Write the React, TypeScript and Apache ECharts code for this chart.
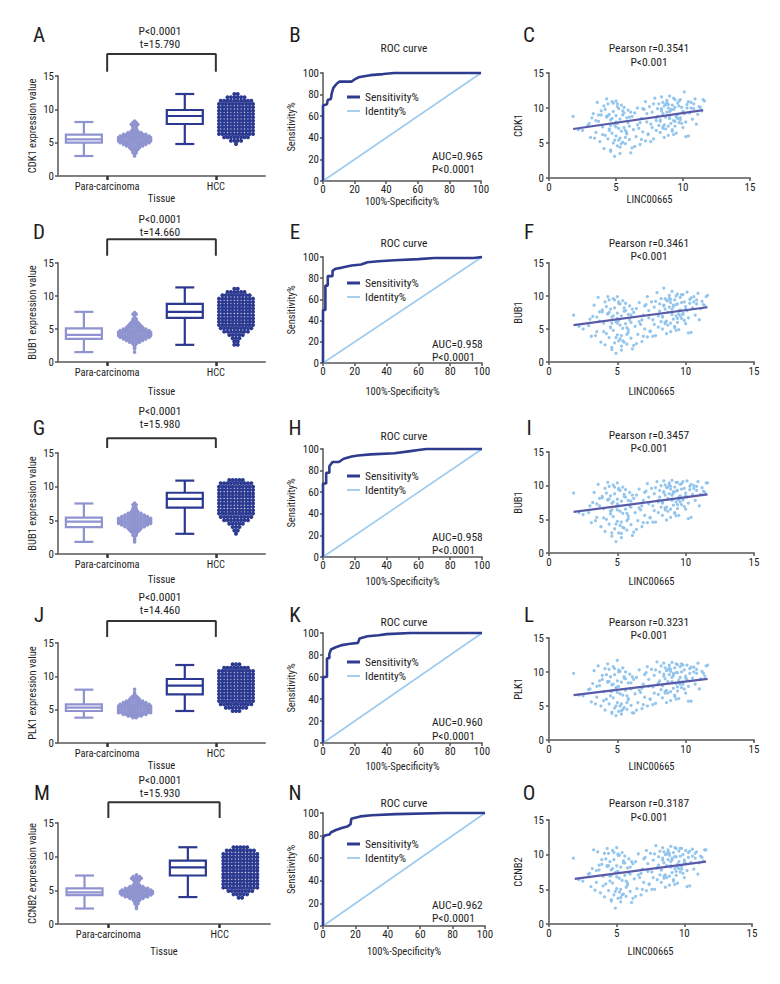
import React, { useEffect, useRef } from "react";
import * as echarts from "echarts";

const FONT = "'Roboto Condensed', 'Liberation Sans Narrow', 'DejaVu Sans Condensed', sans-serif";

// ---------- texts & statistics ----------
const panelLetters = [["A", "B", "C"], ["D", "E", "F"], ["G", "H", "I"], ["J", "K", "L"], ["M", "N", "O"]];
const genes = ["CDK1", "BUB1", "BUB1", "PLK1", "CCNB2"];
const tValues = ["15.790", "14.660", "15.980", "14.460", "15.930"];
const aucValues = ["0.965", "0.958", "0.958", "0.960", "0.962"];
const pearsonR = ["0.3541", "0.3461", "0.3457", "0.3231", "0.3187"];
const tissueCategories = ["Para-carcinoma", "HCC"];

// ---------- box plot stats [min, Q1, median, Q3, max] ----------
const paraBox = [
  [3.0, 5.0, 5.5, 6.2, 8.1],
  [1.5, 3.5, 4.1, 5.1, 7.6],
  [1.8, 4.0, 4.8, 5.4, 7.5],
  [3.8, 4.8, 5.3, 5.8, 8.0],
  [2.3, 4.3, 4.7, 5.3, 7.2],
];
const hccBox = [
  [4.8, 7.8, 9.0, 9.9, 12.3],
  [2.6, 6.7, 7.6, 8.8, 11.3],
  [3.0, 6.9, 8.2, 9.1, 10.9],
  [4.8, 7.3, 8.6, 9.6, 11.7],
  [4.0, 7.2, 8.4, 9.4, 11.4],
];

// ---------- dot plots: histogram of values (bin start, step, counts) ----------
const paraStart = [3.0, 1.5, 1.8, 3.8, 2.3];
const paraStep = 0.25;
const paraCounts = [
  [1, 1, 2, 2, 3, 4, 6, 8, 10, 11, 11, 11, 10, 8, 5, 3, 2, 2, 2, 3, 2, 1],
  [1, 0, 1, 1, 1, 2, 4, 6, 8, 10, 11, 11, 11, 10, 8, 6, 5, 4, 3, 2, 2, 1, 1, 2, 1],
  [1, 1, 1, 1, 2, 2, 3, 4, 5, 7, 9, 11, 11, 11, 11, 9, 7, 5, 3, 2, 2, 1, 2, 1],
  [2, 5, 8, 11, 11, 11, 11, 11, 10, 8, 6, 4, 3, 2, 1, 1, 0, 1],
  [1, 1, 1, 2, 2, 3, 5, 8, 10, 11, 11, 10, 8, 5, 3, 2, 2, 3, 4, 3, 1],
];
const hccStart = [4.8, 2.6, 3.0, 4.8, 3.9];
const hccStep = 0.5;
const hccCounts = [
  [1, 4, 8, 11, 11, 11, 11, 11, 11, 11, 11, 11, 11, 10, 6, 2],
  [2, 2, 3, 5, 8, 10, 11, 11, 11, 11, 11, 11, 11, 11, 11, 9, 6, 2],
  [1, 2, 3, 5, 8, 10, 11, 11, 11, 11, 11, 11, 11, 11, 11, 10, 5],
  [3, 7, 10, 11, 11, 11, 11, 11, 11, 11, 11, 11, 11, 8, 3],
  [2, 5, 8, 11, 11, 11, 11, 11, 11, 11, 11, 11, 11, 11, 9, 5],
];

// ---------- ROC curves [100%-Specificity%, Sensitivity%] ----------
const rocB = [[0, 0], [0, 70], [2.5, 71], [3, 75], [5, 76], [5.5, 81], [6.5, 86], [7.5, 88], [9, 90.5], [10.5, 92], [18, 92], [20, 94], [22.5, 96], [26, 97], [30, 98], [38, 99], [45, 100], [100, 100]];
const rocE = [[0, 0], [0, 50], [1.5, 50], [1.5, 73], [3, 73], [3, 82], [6, 82], [6, 87], [8, 89], [12, 90], [18, 92], [24, 93], [28, 95], [35, 96], [45, 97], [60, 98], [70, 99], [95, 99], [100, 100]];
const rocH = [[0, 0], [0, 68], [2, 68], [2, 78], [4, 78], [4, 84], [6, 88], [10, 88], [13, 91], [18, 93], [22, 94], [30, 95], [45, 96], [55, 98], [60, 99], [65, 100], [100, 100]];
const rocK = [[0, 0], [0, 60], [2.5, 60], [2.5, 77], [4, 77], [4, 81], [5, 85], [8, 87], [12, 89], [16, 90], [22, 91], [23, 95], [28, 97], [35, 98], [40, 99], [55, 100], [100, 100]];
const rocN = [[0, 0], [0, 78], [1, 80], [4, 81], [5, 83], [8, 85], [12, 87], [15, 88], [17, 90], [17.5, 95], [23, 97], [30, 98], [45, 99], [75, 100], [100, 100]];
const rocCurves = [rocB, rocE, rocH, rocK, rocN];
const identityLine = [[0, 0], [100, 100]];

// ---------- correlation scatter (same samples, LINC00665 on x) ----------
const lincValues = [
  1.8, 2.9, 3.1, 3.3, 3.5, 3.6, 3.7, 3.8, 3.9, 4.0,
  4.1, 4.1, 4.2, 4.3, 4.3, 4.4, 4.5, 4.5, 4.6, 4.6,
  4.7, 4.7, 4.8, 4.8, 4.9, 4.9, 5.0, 5.0, 5.0, 5.1,
  5.1, 5.2, 5.2, 5.3, 5.3, 5.4, 5.4, 5.5, 5.5, 5.6,
  5.6, 5.7, 5.8, 5.8, 5.9, 6.0, 6.0, 6.1, 6.2, 6.3,
  6.4, 6.5, 6.6, 6.7, 6.8, 6.9, 7.0, 7.1, 7.2, 7.3,
  7.4, 7.5, 7.6, 7.7, 7.8, 7.9, 8.0, 8.0, 8.1, 8.2,
  8.2, 8.3, 8.3, 8.4, 8.4, 8.5, 8.5, 8.6, 8.6, 8.7,
  8.7, 8.8, 8.8, 8.9, 8.9, 9.0, 9.0, 9.1, 9.1, 9.2,
  9.2, 9.3, 9.3, 9.4, 9.4, 9.5, 9.5, 9.6, 9.6, 9.7,
  9.7, 9.8, 9.9, 10.0, 10.0, 10.1, 10.2, 10.3, 10.4, 10.5,
  10.6, 10.7, 10.8, 10.9, 11.0, 11.2, 11.4, 11.6, 2.5, 3.2,
  3.4, 3.9, 4.4, 4.6, 5.0, 5.3, 5.7, 6.1, 6.4, 6.8,
  7.2, 7.6, 8.1, 8.5, 8.9, 9.3, 9.8, 10.2, 10.6, 11.1,
  4.2, 4.5, 4.7, 4.9, 5.1, 5.2, 5.4, 5.6, 5.8, 6.0,
  4.0, 4.4, 4.8, 5.0, 5.3, 5.5, 5.9, 6.2, 3.7, 3.5,
  8.4, 8.6, 8.8, 9.0, 9.2, 9.4, 9.6, 9.8, 10.0, 10.3,
  8.3, 8.7, 8.9, 9.1, 9.3, 9.5, 9.7, 9.9, 10.1, 10.8,
  6.6, 7.0, 7.4, 7.8, 8.0, 6.9, 7.3, 7.7, 11.3, 11.5,
  4.6, 5.1, 5.7, 4.3, 8.5, 9.0, 9.4, 10.4, 3.0, 2.2,
];
const cdk1Values = [
  8.8, 7.5, 5.8, 9.2, 6.5, 10.8, 8.1, 5.2, 9.6, 7.3,
  4.2, 10.3, 6.1, 8.7, 11.3, 5.6, 9.1, 7.0, 3.8, 8.3,
  10.9, 6.4, 5.0, 9.5, 7.6, 3.1, 8.9, 6.0, 11.0, 4.6,
  7.8, 9.9, 5.4, 8.4, 4.4, 10.4, 6.7, 9.0, 5.1, 7.2,
  10.1, 4.9, 8.6, 6.3, 9.7, 5.5, 7.4, 3.6, 8.8, 6.9,
  9.3, 5.9, 10.0, 7.1, 4.8, 8.5, 6.6, 9.8, 5.3, 8.0,
  6.2, 10.2, 7.7, 9.4, 5.6, 11.4, 8.2, 6.8, 9.9, 7.5,
  10.6, 8.1, 6.5, 9.6, 11.6, 7.3, 9.2, 5.8, 10.3, 8.7,
  7.0, 11.1, 9.4, 6.1, 10.0, 8.5, 11.7, 7.8, 9.7, 6.7,
  10.4, 8.2, 9.8, 7.4, 11.2, 8.9, 6.4, 10.7, 9.1, 7.9,
  11.0, 8.6, 10.1, 7.2, 9.5, 12.3, 8.0, 10.5, 6.0, 9.3,
  10.8, 8.4, 9.9, 11.3, 7.7, 10.2, 9.6, 11.0, 6.8, 8.6,
  5.7, 9.0, 10.6, 4.0, 8.0, 3.5, 6.8, 9.4, 4.5, 7.9,
  10.9, 5.2, 8.8, 7.1, 10.5, 6.2, 8.3, 5.9, 10.0, 9.1,
  9.8, 6.8, 8.5, 5.4, 10.2, 7.1, 4.9, 9.3, 6.5, 8.7,
  6.2, 8.9, 10.7, 7.3, 5.7, 9.6, 7.9, 4.3, 9.0, 8.2,
  9.9, 7.6, 10.8, 8.9, 6.9, 10.1, 8.5, 11.2, 9.4, 10.0,
  8.3, 10.5, 7.4, 9.8, 11.4, 8.7, 10.3, 7.8, 9.2, 10.6,
  7.6, 9.9, 6.3, 10.6, 8.6, 5.5, 9.2, 7.2, 10.1, 11.2,
  7.5, 10.6, 5.8, 8.8, 10.8, 9.5, 8.1, 10.9, 7.8, 6.9,
];
const bub1aValues = [
  7.1, 5.5, 3.9, 8.6, 4.6, 9.8, 6.2, 3.0, 7.9, 5.9,
  2.6, 9.1, 4.3, 7.3, 9.9, 3.7, 8.0, 5.3, 1.9, 6.8,
  9.6, 4.8, 2.9, 8.2, 6.1, 1.3, 7.4, 4.1, 9.9, 3.2,
  6.3, 8.8, 3.5, 7.0, 2.4, 9.3, 5.1, 7.7, 3.0, 5.8,
  8.9, 2.7, 7.2, 4.5, 8.5, 3.6, 6.0, 2.0, 7.5, 5.4,
  8.1, 4.2, 9.0, 5.7, 3.1, 7.1, 5.0, 8.7, 3.8, 6.7,
  4.7, 9.1, 6.4, 8.3, 4.0, 10.5, 7.0, 5.3, 8.8, 6.1,
  9.6, 6.9, 5.0, 8.5, 11.2, 6.0, 8.0, 4.3, 9.3, 7.5,
  5.6, 10.1, 8.3, 4.6, 9.0, 7.2, 10.7, 6.5, 8.6, 5.2,
  9.4, 7.0, 8.7, 6.0, 10.3, 7.8, 4.9, 9.8, 7.9, 6.6,
  10.2, 7.4, 9.1, 5.8, 8.4, 10.6, 6.7, 9.5, 4.5, 8.2,
  9.9, 7.1, 8.8, 10.4, 6.4, 9.2, 8.5, 10.1, 5.0, 6.9,
  4.0, 7.6, 9.4, 2.2, 6.6, 1.8, 5.2, 8.0, 2.8, 6.4,
  9.9, 3.9, 7.7, 5.8, 9.5, 4.8, 7.2, 4.4, 9.1, 8.1,
  8.4, 5.2, 7.0, 3.7, 8.9, 5.6, 3.2, 7.8, 4.9, 7.1,
  4.6, 7.5, 9.4, 5.9, 4.0, 8.2, 6.4, 2.5, 7.6, 6.8,
  8.6, 6.2, 9.7, 7.5, 5.4, 8.8, 7.0, 10.2, 8.0, 8.9,
  6.8, 9.3, 5.9, 8.4, 10.0, 7.3, 9.0, 6.3, 7.8, 9.4,
  6.1, 8.5, 4.6, 9.2, 7.2, 3.9, 7.8, 5.7, 8.7, 9.9,
  5.9, 9.1, 4.2, 7.3, 9.6, 8.0, 6.6, 9.7, 6.5, 5.4,
];
const bub1bValues = [
  8.9, 6.0, 4.5, 9.0, 5.3, 10.2, 7.0, 3.9, 8.4, 6.6,
  3.2, 9.6, 5.0, 7.9, 10.5, 4.3, 8.5, 6.2, 2.5, 7.4,
  10.1, 5.4, 3.6, 8.8, 6.9, 1.7, 8.0, 4.7, 10.4, 3.0,
  7.0, 9.3, 4.1, 7.7, 2.9, 9.8, 5.9, 8.4, 3.7, 6.5,
  9.4, 3.4, 7.8, 5.1, 9.0, 4.2, 6.8, 2.6, 8.1, 6.0,
  8.6, 4.8, 9.5, 6.4, 3.9, 7.8, 5.6, 9.2, 4.5, 7.3,
  5.3, 9.6, 7.0, 8.8, 4.6, 10.6, 7.6, 6.0, 9.3, 6.8,
  10.0, 7.5, 5.6, 9.0, 10.7, 6.7, 8.6, 4.9, 9.7, 8.1,
  6.2, 10.4, 8.8, 5.3, 9.5, 7.8, 10.8, 7.1, 9.1, 5.9,
  9.8, 7.6, 9.2, 6.6, 10.5, 8.3, 5.6, 10.2, 8.5, 7.2,
  10.3, 8.0, 9.6, 6.5, 8.9, 10.7, 7.4, 9.9, 5.3, 8.7,
  10.0, 7.8, 9.3, 10.6, 7.0, 9.7, 9.0, 10.4, 5.7, 7.5,
  4.8, 8.2, 9.9, 3.0, 7.3, 2.3, 5.9, 8.6, 3.5, 7.0,
  10.3, 4.6, 8.3, 6.4, 9.9, 5.5, 7.9, 5.1, 9.6, 8.7,
  8.9, 5.8, 7.6, 4.3, 9.4, 6.2, 3.8, 8.3, 5.5, 7.7,
  5.2, 8.0, 9.8, 6.4, 4.6, 8.7, 7.0, 3.1, 8.1, 7.3,
  9.1, 6.8, 10.1, 8.0, 6.0, 9.3, 7.6, 10.6, 8.5, 9.4,
  7.4, 9.8, 6.5, 8.9, 10.5, 7.9, 9.5, 6.9, 8.3, 9.9,
  6.7, 9.0, 5.2, 9.7, 7.8, 4.5, 8.3, 6.3, 9.2, 10.4,
  6.4, 9.6, 4.8, 7.9, 10.1, 8.6, 7.2, 10.2, 7.0, 6.0,
];
const plk1Values = [
  9.8, 7.4, 5.6, 10.2, 6.3, 10.9, 8.0, 5.0, 9.5, 7.1,
  4.4, 10.5, 6.0, 8.6, 11.2, 5.3, 9.3, 7.2, 3.9, 8.1,
  10.8, 6.2, 4.7, 9.6, 7.7, 3.6, 8.7, 5.5, 11.7, 4.2,
  7.9, 10.1, 5.0, 8.5, 4.3, 10.6, 6.6, 9.1, 4.8, 7.3,
  10.0, 4.5, 8.4, 5.9, 9.7, 5.1, 7.5, 4.0, 8.9, 6.8,
  9.2, 5.5, 10.3, 7.0, 4.6, 8.2, 6.3, 9.9, 5.0, 7.9,
  6.0, 10.4, 7.8, 9.5, 5.4, 11.5, 8.4, 6.7, 10.0, 7.4,
  10.9, 8.0, 6.2, 9.4, 11.3, 7.1, 9.0, 5.5, 10.2, 8.6,
  6.9, 11.0, 9.6, 5.8, 10.1, 8.4, 11.4, 7.6, 9.8, 6.4,
  10.6, 8.3, 9.9, 7.2, 11.1, 8.8, 6.1, 10.8, 9.2, 7.7,
  11.2, 8.5, 10.3, 6.9, 9.4, 11.0, 7.9, 10.5, 5.7, 9.1,
  10.7, 8.2, 9.8, 11.3, 7.5, 10.1, 9.4, 11.0, 6.5, 8.3,
  5.3, 8.9, 10.4, 4.1, 7.8, 3.8, 6.5, 9.3, 4.4, 7.6,
  10.8, 5.2, 8.7, 6.9, 10.4, 6.0, 8.2, 5.7, 10.0, 9.0,
  9.6, 6.5, 8.2, 5.0, 10.0, 6.8, 4.5, 9.0, 6.1, 8.4,
  5.8, 8.6, 10.5, 7.0, 5.3, 9.3, 7.6, 4.0, 8.7, 7.9,
  9.7, 7.3, 10.6, 8.6, 6.6, 9.9, 8.2, 11.0, 9.1, 9.8,
  8.0, 10.3, 7.1, 9.5, 11.2, 8.4, 10.0, 7.5, 8.9, 10.4,
  7.3, 9.6, 6.0, 10.3, 8.3, 5.2, 8.9, 6.9, 9.8, 10.9,
  7.2, 10.3, 5.5, 8.5, 10.6, 9.2, 7.8, 10.7, 7.5, 6.6,
];
const ccnb2Values = [
  9.5, 7.2, 5.4, 10.7, 6.0, 10.4, 7.8, 4.5, 9.3, 6.9,
  3.9, 10.2, 5.8, 8.4, 10.9, 4.8, 9.0, 6.9, 3.3, 7.8,
  10.6, 5.9, 4.2, 9.3, 7.4, 2.3, 8.4, 5.1, 11.0, 3.7,
  7.6, 9.9, 4.6, 8.2, 3.8, 10.3, 6.3, 8.8, 4.3, 7.0,
  9.8, 4.0, 8.1, 5.6, 9.4, 4.7, 7.2, 3.1, 8.7, 6.5,
  9.0, 5.1, 10.1, 6.7, 4.2, 7.9, 6.0, 9.6, 4.8, 7.6,
  5.7, 10.2, 7.5, 9.2, 5.0, 11.3, 8.1, 6.4, 9.7, 7.1,
  10.5, 7.8, 6.0, 9.2, 11.0, 6.9, 8.8, 5.3, 10.0, 8.4,
  6.7, 10.7, 9.3, 5.6, 9.9, 8.2, 11.2, 7.4, 9.5, 6.2,
  10.3, 8.0, 9.7, 7.0, 10.9, 8.6, 5.9, 10.5, 9.0, 7.5,
  10.9, 8.3, 10.0, 6.7, 9.2, 10.6, 7.7, 10.3, 5.5, 8.9,
  10.8, 7.9, 9.5, 10.4, 7.2, 9.8, 9.1, 10.7, 6.2, 8.0,
  4.9, 8.6, 10.2, 3.5, 7.5, 3.2, 6.2, 9.0, 4.0, 7.3,
  10.6, 5.0, 8.5, 6.6, 10.2, 5.7, 7.9, 5.4, 9.8, 8.8,
  9.4, 6.2, 8.0, 4.7, 9.9, 6.6, 4.2, 8.8, 5.9, 8.2,
  5.5, 8.4, 10.3, 6.8, 5.0, 9.1, 7.4, 3.7, 8.5, 7.7,
  9.5, 7.1, 10.4, 8.4, 6.4, 9.7, 8.0, 10.9, 8.9, 9.6,
  7.8, 10.1, 6.9, 9.3, 11.0, 8.2, 9.8, 7.3, 8.7, 10.2,
  7.1, 9.4, 5.8, 10.1, 8.1, 5.0, 8.7, 6.7, 9.6, 10.7,
  7.0, 10.1, 5.3, 8.3, 10.4, 9.0, 7.6, 10.5, 7.3, 6.4,
];
const geneScatter = [cdk1Values, bub1aValues, bub1bValues, plk1Values, ccnb2Values];
const fitLines = [
  [[1.8, 7.0], [11.5, 9.7]],
  [[1.8, 5.6], [11.6, 8.3]],
  [[1.8, 6.1], [11.6, 8.7]],
  [[1.8, 6.6], [11.6, 9.0]],
  [[1.9, 6.5], [11.6, 9.0]],
];

// ---------- layout (pixels) ----------
const rowLayout = [
  { boxTop: 76, boxBot: 176, boxW: 207, rocTop: 73, rocBot: 181, rocW: 158, scTop: 73, scBot: 178, scW: 201, letterY: 35, pY: 31, tY: 44, brTop: 18.3, brLeg: 15.65, rocTitleY: 48, pearY: 48, pearPY: 62, legendTop: 91, aucY: 155.5, aucPY: 168.5, boxNameGap: 17, rocNameGap: 11, scNameGap: 13 },
  { boxTop: 263, boxBot: 362, boxW: 207, rocTop: 257, rocBot: 363, rocW: 159, scTop: 263, scBot: 362, scW: 205, letterY: 232, pY: 219, tY: 232, brTop: 18.6, brLeg: 16.1, rocTitleY: 243, pearY: 243, pearPY: 256, legendTop: 277, aucY: 344, aucPY: 357, boxNameGap: 24, rocNameGap: 23, scNameGap: 24 },
  { boxTop: 453, boxBot: 554, boxW: 207, rocTop: 449, rocBot: 557, rocW: 159, scTop: 452, scBot: 553, scW: 205, letterY: 428, pY: 410.5, tY: 424, brTop: 17.2, brLeg: 15.75, rocTitleY: 436, pearY: 435, pearPY: 448, legendTop: 470, aucY: 536.5, aucPY: 549.5, boxNameGap: 20, rocNameGap: 19, scNameGap: 23 },
  { boxTop: 643, boxBot: 743, boxW: 207, rocTop: 633, rocBot: 743, rocW: 159, scTop: 638, scBot: 740, scW: 205, letterY: 615, pY: 597, tY: 610, brTop: 18.3, brLeg: 15.9, rocTitleY: 622, pearY: 622, pearPY: 635, legendTop: 656, aucY: 722, aucPY: 736, boxNameGap: 17, rocNameGap: 18, scNameGap: 21 },
  { boxTop: 823, boxBot: 924, boxW: 212, rocTop: 813, rocBot: 926, rocW: 162, scTop: 820, scBot: 924, scW: 203, letterY: 793, pY: 780, tY: 793, brTop: 18.1, brLeg: 15.75, rocTitleY: 803, pearY: 803, pearPY: 817, legendTop: 838, aucY: 905, aucPY: 918, boxNameGap: 22, rocNameGap: 20, scNameGap: 22 },
];
const BOX_LEFT = 58;
const ROC_LEFT = 323;
const SC_LEFT = 549;
const letterX = [39, 295, 529];
const catPos = [0.95, 3.05];
const itemPos = { paraBox: 0.5, paraDots: 1.48, hccBox: 2.45, hccDots: 3.44 };

const PARA_COLOR = "#8f94d0";
const HCC_COLOR = "#2b3990";
const ROC_COLOR = "#2e3b8f";
const ID_COLOR = "#9ccbef";
const DOT_COLOR = "#8fc3ec";
const FIT_COLOR = "#5a5ba8";
const AXIS_COLOR = "#808080";
const TEXT_COLOR = "#1e1e1e";
const SMALL = 10.5;

function swarm(center: number, start: number, step: number, counts: number[], dx: number) {
  const pts: number[][] = [];
  counts.forEach((n, i) => {
    const y = +(start + i * step).toFixed(3);
    for (let j = 0; j < n; j++) pts.push([center + (j - (n - 1) / 2) * dx, y]);
  });
  return pts;
}

function boxRender(params: any, api: any) {
  const x = api.value(0);
  const pMin = api.coord([x, api.value(1)]);
  const pQ1 = api.coord([x, api.value(2)]);
  const pMed = api.coord([x, api.value(3)]);
  const pQ3 = api.coord([x, api.value(4)]);
  const pMax = api.coord([x, api.value(5)]);
  const color = api.visual("color");
  const hw = 18;
  const cw = 9.5;
  const st = { stroke: color, lineWidth: 2.2, fill: null };
  return {
    type: "group",
    children: [
      { type: "line", shape: { x1: pMin[0], y1: pMin[1], x2: pQ1[0], y2: pQ1[1] }, style: st },
      { type: "line", shape: { x1: pQ3[0], y1: pQ3[1], x2: pMax[0], y2: pMax[1] }, style: st },
      { type: "line", shape: { x1: pMin[0] - cw, y1: pMin[1], x2: pMin[0] + cw, y2: pMin[1] }, style: st },
      { type: "line", shape: { x1: pMax[0] - cw, y1: pMax[1], x2: pMax[0] + cw, y2: pMax[1] }, style: st },
      { type: "rect", shape: { x: pQ3[0] - hw, y: pQ3[1], width: 2 * hw, height: pQ1[1] - pQ3[1] }, style: { stroke: color, lineWidth: 2.2, fill: "#fff" } },
      { type: "line", shape: { x1: pMed[0] - hw, y1: pMed[1], x2: pMed[0] + hw, y2: pMed[1] }, style: st },
    ],
  };
}

function txt(text: string, x: number, y: number, size: number, align = "center") {
  return {
    type: "text",
    x,
    y,
    silent: true,
    style: {
      text,
      fontSize: size,
      fontFamily: FONT,
      fontWeight: "normal",
      fill: TEXT_COLOR,
      align,
      textAlign: align,
      verticalAlign: "middle",
      textVerticalAlign: "middle",
    },
  };
}

function buildOption() {
  const grid: any[] = [];
  const xAxis: any[] = [];
  const yAxis: any[] = [];
  const series: any[] = [];
  const legend: any[] = [];
  const graphics: any[] = [];
  const axisLine = { show: true, onZero: false, lineStyle: { color: AXIS_COLOR, width: 2 } };
  const lab = { color: TEXT_COLOR, fontSize: SMALL, fontFamily: FONT, fontWeight: "normal" };
  const tick = { show: true, length: 3, lineStyle: { color: "#555", width: 1.5 } };

  rowLayout.forEach((L, r) => {
    const gi = r * 3;
    grid.push({ left: BOX_LEFT, top: L.boxTop, width: L.boxW, height: L.boxBot - L.boxTop, outerBoundsMode: "none", containLabel: false });
    grid.push({ left: ROC_LEFT, top: L.rocTop, width: L.rocW, height: L.rocBot - L.rocTop, outerBoundsMode: "none", containLabel: false });
    grid.push({ left: SC_LEFT, top: L.scTop, width: L.scW, height: L.scBot - L.scTop, outerBoundsMode: "none", containLabel: false });

    // ---- box / dot plot axes
    xAxis.push({
      type: "value", gridIndex: gi, min: 0, max: 4, axisLine, splitLine: { show: false },
      axisTick: { show: true, customValues: catPos, length: 4, lineStyle: { color: "#333", width: 2.5 } },
      axisLabel: { ...lab, customValues: catPos, margin: 5, formatter: (v: number) => (v < 2 ? tissueCategories[0] : tissueCategories[1]) },
      name: "Tissue", nameLocation: "middle", nameGap: L.boxNameGap, nameTextStyle: { ...lab },
    });
    yAxis.push({
      type: "value", gridIndex: gi, min: 0, max: 15, interval: 5, axisLine, axisTick: tick,
      axisLabel: { ...lab, fontSize: 11, margin: 4 }, splitLine: { show: false },
      name: `${genes[r]} expression value`, nameLocation: "middle", nameGap: 20, nameTextStyle: { ...lab },
    });
    // ---- ROC axes
    xAxis.push({
      type: "value", gridIndex: gi + 1, min: 0, max: 100, interval: 20, axisLine, axisTick: tick,
      axisLabel: { ...lab, fontSize: 11, margin: 3 }, splitLine: { show: false },
      name: "100%-Specificity%", nameLocation: "middle", nameGap: L.rocNameGap, nameTextStyle: { ...lab },
    });
    yAxis.push({
      type: "value", gridIndex: gi + 1, min: 0, max: 100, interval: 20, axisLine, axisTick: tick,
      axisLabel: { ...lab, fontSize: 11, margin: 4 }, splitLine: { show: false },
      name: "Sensitivity%", nameLocation: "middle", nameGap: 26, nameTextStyle: { ...lab },
    });
    // ---- scatter axes
    xAxis.push({
      type: "value", gridIndex: gi + 2, min: 0, max: 15, interval: 5, axisLine, axisTick: tick,
      axisLabel: { ...lab, fontSize: 11, margin: 4 }, splitLine: { show: false },
      name: "LINC00665", nameLocation: "middle", nameGap: L.scNameGap, nameTextStyle: { ...lab },
    });
    yAxis.push({
      type: "value", gridIndex: gi + 2, min: 0, max: 15, interval: 5, axisLine, axisTick: tick,
      axisLabel: { ...lab, fontSize: 11, margin: 5 }, splitLine: { show: false },
      name: genes[r], nameLocation: "middle", nameGap: 25, nameTextStyle: { ...lab },
    });

    // ---- box plot series
    const pxPerUnit = L.boxW / 4;
    series.push({
      type: "custom", xAxisIndex: gi, yAxisIndex: gi, renderItem: boxRender, silent: true, z: 3,
      itemStyle: { color: PARA_COLOR }, data: [[itemPos.paraBox, ...paraBox[r]]],
    });
    series.push({
      type: "custom", xAxisIndex: gi, yAxisIndex: gi, renderItem: boxRender, silent: true, z: 3,
      itemStyle: { color: HCC_COLOR }, data: [[itemPos.hccBox, ...hccBox[r]]],
    });
    series.push({
      type: "scatter", xAxisIndex: gi, yAxisIndex: gi, symbolSize: 3.6, silent: true,
      itemStyle: { color: PARA_COLOR, opacity: 1 },
      data: swarm(itemPos.paraDots, paraStart[r], paraStep, paraCounts[r], 3.2 / pxPerUnit),
    });
    series.push({
      type: "scatter", xAxisIndex: gi, yAxisIndex: gi, symbolSize: 4, silent: true,
      itemStyle: { color: HCC_COLOR, opacity: 1 },
      data: swarm(itemPos.hccDots, hccStart[r], hccStep, hccCounts[r], 3.4 / pxPerUnit),
    });
    // significance bracket
    series.push({
      type: "line", xAxisIndex: gi, yAxisIndex: gi, clip: false, symbol: "none", silent: true,
      lineStyle: { color: "#333", width: 2 },
      data: [[catPos[0], L.brLeg], [catPos[0], L.brTop], [catPos[1], L.brTop], [catPos[1], L.brLeg]],
    });

    // ---- ROC series
    series.push({
      name: "Identity%", type: "line", xAxisIndex: gi + 1, yAxisIndex: gi + 1, symbol: "none", silent: true,
      lineStyle: { color: ID_COLOR, width: 1.6 }, itemStyle: { color: ID_COLOR }, data: identityLine, z: 2,
    });
    series.push({
      name: "Sensitivity%", type: "line", xAxisIndex: gi + 1, yAxisIndex: gi + 1, symbol: "none", silent: true,
      lineStyle: { color: ROC_COLOR, width: 2.6 }, itemStyle: { color: ROC_COLOR }, data: rocCurves[r], z: 3, clip: false,
    });
    legend.push({
      left: 347, top: L.legendTop, orient: "vertical", itemWidth: 13, itemHeight: 3, itemGap: 2,
      selectedMode: false, padding: 0,
      data: [
        { name: "Sensitivity%", icon: "rect", itemStyle: { color: ROC_COLOR } },
        { name: "Identity%", icon: "path://M0,0.5 L13,0.5 L13,2.3 L0,2.3 Z", itemStyle: { color: ID_COLOR } },
      ],
      textStyle: { color: TEXT_COLOR, fontSize: 11.5, fontFamily: FONT, fontWeight: "normal" },
    });

    // ---- scatter series
    series.push({
      type: "scatter", xAxisIndex: gi + 2, yAxisIndex: gi + 2, symbolSize: 3.2, silent: true,
      itemStyle: { color: DOT_COLOR, opacity: 0.95 },
      data: lincValues.map((x, i) => [x, geneScatter[r][i]]),
    });
    series.push({
      type: "line", xAxisIndex: gi + 2, yAxisIndex: gi + 2, symbol: "none", silent: true, z: 4,
      lineStyle: { color: FIT_COLOR, width: 2.2 }, data: fitLines[r],
    });

    // ---- texts
    panelLetters[r].forEach((t, c) => graphics.push(txt(t, letterX[c] + (r === 4 && c === 0 ? 3 : 0), L.letterY, 21)));
    graphics.push(txt("P<0.0001", 160, L.pY, 11.5));
    graphics.push(txt(`t=${tValues[r]}`, 160, L.tY, 11.5));
    graphics.push(txt("ROC curve", 404, L.rocTitleY, 11.5));
    graphics.push(txt(`Pearson r=${pearsonR[r]}`, 649, L.pearY, 11.5));
    graphics.push(txt("P<0.001", 649, L.pearPY, 11.5));
    graphics.push(txt(`AUC=${aucValues[r]}`, 432, L.aucY, 11.5, "left"));
    graphics.push(txt("P<0.0001", 432, L.aucPY, 11.5, "left"));
  });

  return {
    animation: false,
    backgroundColor: "#fff",
    textStyle: { fontFamily: FONT },
    grid,
    xAxis,
    yAxis,
    series,
    legend,
    graphic: { elements: graphics },
  };
}

export default function App() {
  const ref = useRef<HTMLDivElement>(null);
  useEffect(() => {
    if (!ref.current) return;
    const chart = echarts.init(ref.current, null, { renderer: "svg" });
    chart.setOption(buildOption() as any);
    return () => chart.dispose();
  }, []);
  return <div ref={ref} style={{ position: "absolute", left: 0, top: 0, width: 780, height: 984, background: "#fff" }} />;
}
